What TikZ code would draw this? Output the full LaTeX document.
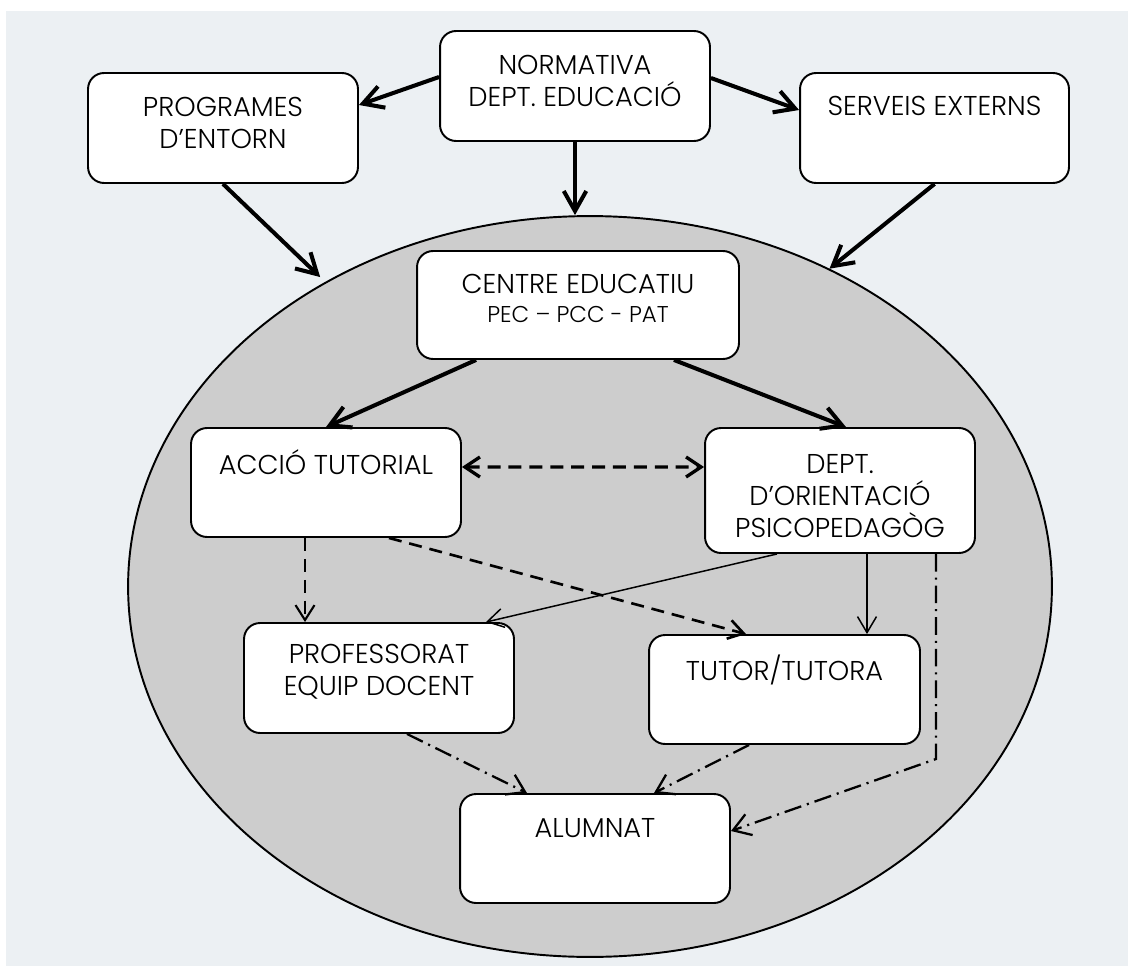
\documentclass[tikz,border=0pt]{standalone}
\usepackage{fontspec}
\setmainfont{Poppins}[UprightFont={* Light}]
\usetikzlibrary{arrows.meta,shapes.geometric}
\definecolor{pagebg}{RGB}{236,240,243}
\definecolor{zonefill}{RGB}{205,205,205}
\begin{document}
\begin{tikzpicture}[x=0.02cm,y=-0.02cm,
  box/.style={draw, line width=1.1pt, rounded corners=0.32cm, fill=white, inner sep=0pt},
  txt/.style={align=center, inner sep=0pt, font=\fontsize{15.5}{18}\selectfont},
  smalltxt/.style={align=center, inner sep=0pt, font=\fontsize{13}{15}\selectfont},
  heavy/.style={line width=2.3pt, -{Straight Barb[length=0.4cm,width=0.45cm]}},
  thin/.style={line width=0.85pt, -{Straight Barb[length=0.32cm,width=0.38cm]}},
  dashlink/.style={line width=1.5pt, dash pattern=on 7.4pt off 4.5pt, -{Straight Barb[length=0.3cm,width=0.38cm]}},
  dotdash/.style={line width=1.3pt, dash pattern=on 10pt off 3.4pt on 1.2pt off 3.4pt, -{Straight Barb[length=0.34cm,width=0.44cm]}}
]
\useasboundingbox (0,0) rectangle (1128,966);
\fill[white] (0,0) rectangle (1128,966);
\fill[pagebg] (6,11) rectangle (1128,966);

% central zone
\node[ellipse, draw, line width=1.1pt, fill=zonefill, inner sep=0pt,
      minimum width=18.48cm, minimum height=14.82cm] (ell) at (590,586.5) {};

% outer boxes
\node[box, minimum width=5.4cm, minimum height=2.2cm] (norm) at (575,86) {};
\node[txt] (normt) at (575,81) {NORMATIVA\\DEPT. EDUCACIÓ};
\node[box, minimum width=5.4cm, minimum height=2.2cm] (prog) at (223,128) {};
\node[txt] (progt) at (223,123) {PROGRAMES\\D’ENTORN};
\node[box, minimum width=5.38cm, minimum height=2.2cm] (serv) at (934.5,128) {};
\node[txt] (servt) at (934.5,106) {SERVEIS EXTERNS};

% inner boxes
\node[box, minimum width=6.44cm, minimum height=2.16cm] (centre) at (578,305) {};
\node[txt] (centret) at (578,284) {CENTRE EDUCATIU};
\node[smalltxt] (centres) at (578,314) {PEC – PCC - PAT};
\node[box, minimum width=5.4cm, minimum height=2.18cm] (accio) at (326,482.5) {};
\node[txt] (acciot) at (326,462) {ACCIÓ TUTORIAL};
\node[box, minimum width=5.4cm, minimum height=2.5cm] (dept) at (840,490.5) {};
\node[txt] (deptt) at (840,496) {DEPT.\\D’ORIENTACIÓ\\PSICOPEDAGÒG};
\node[box, minimum width=5.4cm, minimum height=2.2cm] (prof) at (379,678) {};
\node[txt] (proft) at (379,672) {PROFESSORAT\\EQUIP DOCENT};
\node[box, minimum width=5.42cm, minimum height=2.18cm] (tutor) at (784.5,689.5) {};
\node[txt] (tutort) at (784.5,670) {TUTOR/TUTORA};
\node[box, minimum width=5.4cm, minimum height=2.18cm] (alum) at (595,848.5) {};
\node[txt] (alumt) at (595,828) {ALUMNAT};

% links from the top level
\draw[heavy] ([yshift=0.18cm]norm.west) -- ([yshift=0.46cm]prog.east);
\draw[heavy] ([yshift=0.16cm]norm.east) -- ([yshift=0.36cm]serv.west);
\draw[heavy] (norm.south) -- (norm.south |- ell.north);
\draw[heavy, shorten >=0.14cm] (prog.south) -- (ell.131.6);
\draw[heavy] (serv.south) -- (ell.53.9);

% links inside the zone
\draw[heavy] ([xshift=1.2cm]centre.south west) -- (accio.north);
\draw[heavy] ([xshift=-1.32cm]centre.south east) -- ([xshift=0.12cm]dept.north);
\draw[dashlink, line width=1.9pt, {Straight Barb[length=0.3cm,width=0.4cm]}-{Straight Barb[length=0.3cm,width=0.4cm]}]
  ([yshift=0.31cm]accio.east) -- ([yshift=0.47cm]dept.west);
\draw[dashlink, line width=1.2pt] ([xshift=-0.42cm]accio.south) -- ([xshift=-0.42cm]accio.south |- prof.north);
\draw[dashlink] ([xshift=1.26cm]accio.south) -- ([xshift=-0.77cm]tutor.north);
\draw[thin] ([xshift=-1.26cm]dept.south) -- ([xshift=-0.58cm]prof.north east);
\draw[thin] ([xshift=0.54cm]dept.south) -- ([xshift=0.54cm]dept.south |- tutor.north);
\draw[dotdash] ([xshift=1.92cm]dept.south) -- ([xshift=1.92cm]dept.south |- 0,759) -- ([yshift=0.35cm]alum.east);
\draw[dotdash] ([xshift=0.56cm]prof.south) -- ([xshift=-1.36cm]alum.north);
\draw[dotdash] ([xshift=-0.71cm]tutor.south) -- ([xshift=1.18cm]alum.north);
\end{tikzpicture}
\end{document}
